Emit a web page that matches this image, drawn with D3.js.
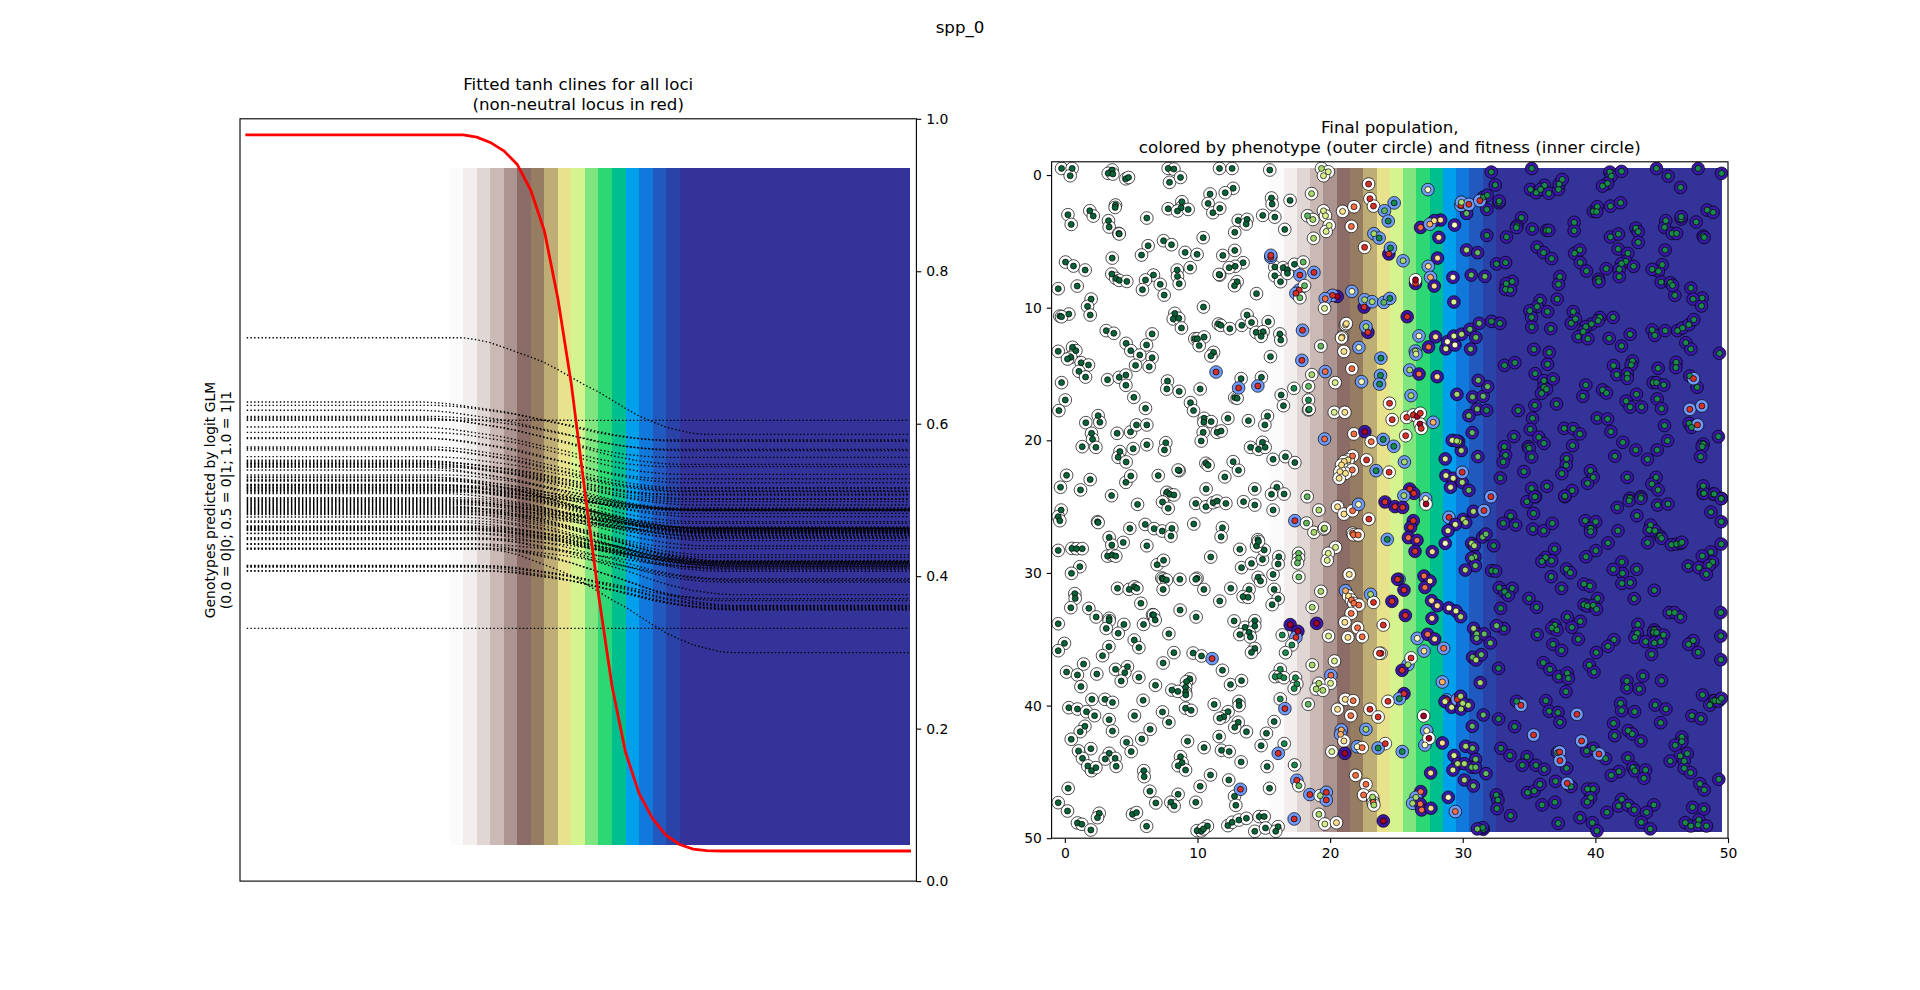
<!DOCTYPE html>
<html><head><meta charset="utf-8"><title>spp_0</title>
<script src="https://cdn.jsdelivr.net/npm/d3@7"></script>
<style>html,body{margin:0;padding:0;background:#fff}svg{display:block}text{font-family:"DejaVu Sans";fill:#000}</style>
</head><body><svg id="c" width="1920" height="990"></svg>
<script>
const suptitle="spp_0";
const leftTitle=["Fitted tanh clines for all loci","(non-neutral locus in red)"];
const rightTitle=["Final population,","colored by phenotype (outer circle) and fitness (inner circle)"];
const yLabel=["Genotypes predicted by logit GLM","(0.0 = 0|0; 0.5 = 0|1; 1.0 = 1|1"];
const leftTicks=[0,0.2,0.4,0.6,0.8,1.0];
const popTicks=[0,10,20,30,40,50];
// raster columns, cell index = centre x
const firstBandCell=16;
const bandColors=["#fcfbfb","#f2eeee","#e0d6d4","#cbb9b5","#ac9490","#8b6c66","#967c60","#bead75","#e8e28c","#d4f490","#7fe57f","#2dd874","#00bf8e","#00a0ed","#1279dc","#2159bf","#2a43a9"];
const lastBandColor="#333399";
const imageRange=[0.0475,0.9356];
// red cline, read at x = 0.5, 1.5, ... 49.5 (flat parts listed by run)
const redFlatLeft=0.979, redFlatRight=0.0395;
const redMid=[0.979,0.976,0.969,0.958,0.940,0.906,0.853,0.764,0.651,0.510,0.376,0.256,0.169,0.115,0.082,0.060,0.048,0.042,0.040];
const midStart=16.5;
// black clines: progress from left plateau to right plateau, read at x = 16.5, 17.5, ...
const clineProgress=[0,.02,.05,.1,.15,.2,.255,.33,.41,.49,.56,.645,.73,.81,.87,.925,.96,.99,1];
// black clines: left plateau, right plateau, and how many cells the drop sits off the common profile
const clineLeft=[.6285,.6241,.6176,.6097,.608,.6062,.5957,.5887,.5817,.5804,.5695,.5677,.5656,.5568,.552,.5502,.5485,.5468,.545,.5433,.5393,.5328,.5301,.527,.5249,.5205,.5188,.517,.5153,.5135,.5118,.5083,.503,.5004,.4978,.4952,.4925,.4899,.4873,.4847,.482,.4777,.4724,.4707,.4654,.4637,.4619,.4602,.4558,.4506,.448,.4418,.4366,.4138,.412,.4068,.6045,.3316,.7127,.4353,
.5205,.519,.5165,.5145,.512,.51,.5015,.499,.4965,.4938,.491,.4885,.486,.4835,.481,.5435,.5475,.5295,.5255,.466,.4645,.4625,.4605,.4565,.4495,.4425,.4365,.4142,.4125,.407];
const clineRight=[.5786,.5769,.5664,.5647,.5559,.5467,.5437,.5336,.5279,.5227,.516,.5152,.512,.5109,.5075,.5065,.5015,.5008,.4978,.4934,.4875,.4868,.4824,.4781,.4715,.4693,.4628,.4615,.4597,.458,.4562,.4527,.451,.4497,.4466,.4396,.4361,.428,.4247,.4197,.4191,.4185,.416,.4145,.4134,.412,.409,.4064,.3967,.3924,.3758,.3679,.3615,.3609,.358,.3556,.6044,.3316,.586,.2997,
.4868,.4862,.4874,.488,.4858,.4628,.4632,.462,.4595,.4588,.4575,.4565,.4555,.4535,.4205,.4875,.4895,.4645,.4605,.419,.4175,.418,.4168,.4155,.4128,.4105,.3945,.3705,.3595,.3565];
const clineShift=[-3,-2,-3,-2,-3,-2,-3,-2,-3,-2,-2,-3,-2,-2,-3,-2,-1,-2,-2,-1,-2,-1,-2,-1,-1,-2,-1,0,-1,-1,0,-1,0,-1,0,0,-1,0,0,1,0,0,1,0,1,0,1,1,1,1,2,1,2,2,1,2,0,0,0,2,
-2,0,-1,-2,-1,0,-1,-1,0,0,-1,1,0,0,1,-3,-2,-2,-1,1,0,2,1,1,2,1,2,1,2,2];
const outerColors=["#ffffff","#6f9bff","#3a17a8"];
const fitColors=["#0a6338","#1a8a4c","#5fb85e","#a6d96a","#d9ef8b","#ffffbf","#fee08b","#fdae61","#f46d43","#d73027","#a50026"];
// individuals on the left: white outer, dark green inner (x,y pairs)
const whitePop=[-.25,-.5,.55,-.5,.4,.05,3.57,-.38,3.27,-.13,3.62,-.08,4.6,.28,4.8,.18,7.79,-.5,8.22,-.45,7.89,.55,8.72,.18,11.66,-.5,12.61,-.5,15.45,-.38,12.69,1,12.09,1.33,10.95,1.43,10.8,2.14,11.16,2.84,11.68,2.51,8.82,2.01,8.77,2.46,7.79,2.54,8.49,2.71,9.3,2.59,3.82,2.26,3.79,2.44,1.88,2.69,2.14,3.09,.23,2.99,.48,3.72,3.29,3.44,3.34,3.92,4.07,4.4,4.1,4.44,6.18,3.24,13.07,3.42,13.74,3.34,13.67,3.69,12.81,4.32,14.92,3.04,15.83,3.17,16.58,4.1,15.58,1.73,15.63,2.19,16.98,1.91,10.43,4.72,7.44,4.95,8.04,5.25,6.28,5.33,5.78,6.03,9.07,5.83,9.97,5.98,3.57,6.26,.05,6.56,.65,6.86,1.53,7.16,8.47,7.16,9.45,6.98,8.49,7.64,8.62,8.19,11.91,6.06,12.81,5.68,13.44,6.61,12.84,6.88,12.39,6.98,11.68,7.54,11.63,7.49,12.99,8.04,12.79,8.34,14.45,8.94,15.83,6.93,15.83,7.59,16.26,8.04,16.46,6.98,16.78,7.16,16.78,7.41,17.31,6.73,3.54,7.46,3.84,7.79,4.1,7.94,4.67,8.02,6.68,7.54,6.08,7.91,5.85,8.64,7.19,8.24,7.49,9.05,-.5,8.57,.93,8.37,1.98,9.35,1.71,9.9,1.91,10.55,.3,10.48,-.38,10.63,-.25,10.68,10.45,9.95,8.29,10.43,8.17,10.85,8.59,10.8,8.79,11.53,11.58,11.23,11.76,11.33,12.44,11.58,13.34,11.33,13.74,10.55,14.07,11.11,15.33,11.06,14.42,11.86,14.95,11.81,14.8,12.16,16.21,11.98,16.28,12.44,3.12,11.73,3.69,11.93,6.58,11.98,9.8,12.34,10,12.34,10.5,12.21,10.13,12.86,4.62,12.69,4.97,13.24,6.16,12.81,5.65,13.57,6.58,13.77,6.36,14.45,5.33,14.35,.58,12.99,.83,13.24,-.5,13.29,.45,13.74,.2,13.87,1.23,14.15,1.78,14.32,1.06,14.8,1.56,15.23,3.22,15.43,4.1,15.25,4.6,15.08,4.6,15.85,11.21,13.37,11.01,13.64,15.5,13.69,-.25,15.65,7.74,15.53,7.69,16.13,8.62,16.31,10.2,16.13,13.29,15.35,14.82,15.25,5.2,16.76,.03,16.96,-.45,17.76,6.08,17.59,9.47,17.16,9.7,17.76,12.81,16.78,12.99,16.83,16.31,16.58,16.48,17.39,2.51,18.14,1.58,18.67,2.64,18.64,2.01,19.47,2.09,19.92,2.34,20.53,1.31,20.48,3.94,19.47,4.95,19.37,5.4,18.84,6.18,18.84,10.5,18.34,10.48,18.64,11.03,18.59,12.29,18.34,13.84,18.52,15.28,18.17,15.08,18.84,11.48,19.4,11.78,19.3,10.43,19.4,10.28,20.05,6.18,20.33,5.15,20.63,7.61,20.18,7.51,20.73,4.15,20.85,4.02,21.28,4.62,21.63,14,20.53,14.6,20.68,14.9,20.15,15.1,20.53,15.7,21.43,16.63,21.23,17.34,21.68,12.69,21.61,13.09,22.26,10.63,21.73,10.8,21.88,8.62,22.29,8.54,22.24,7.04,22.66,.13,22.64,1.91,22.96,-.33,23.54,1.18,23.74,4.6,23.17,4.97,22.69,12.06,22.76,3.52,24.17,10.65,23.67,14.32,23.67,15.98,23.54,15.58,24.07,16.53,24.05,7.69,23.92,7.91,24.07,8.22,24.12,
5.48,24.83,7.36,24.65,7.79,25.13,9.87,24.76,10.63,25.01,11.18,24.7,11.48,24.58,12.14,24.76,13.47,24.63,14.32,24.88,15.7,25.26,-.28,25.26,-.5,25.76,-.38,26.06,2.46,26.14,2.51,26.2,4.9,26.64,6.06,26.34,6.73,26.66,7.34,26.84,8.07,26.64,8,27.22,9.72,26.31,11.88,26.59,11.78,27.27,6.18,27.95,4.4,27.7,3.34,27.32,3.54,27.9,-.5,28.3,.53,28.15,.88,28.17,1.31,28.17,3.22,28.73,3.57,28.65,3.84,28.73,1.13,29.53,.5,30.03,6.96,29.38,7.44,29.05,7.31,30.38,7.41,30.46,7.66,30.53,7.41,31.24,8.67,30.48,9.97,30.4,9.87,30.48,10.48,31.24,11,28.8,11.68,32.12,12.51,31.16,13.32,29.6,13.19,28.22,14.07,29.28,14.9,28.98,15.03,28.27,14.45,27.97,14.55,27.49,14.6,27.63,15.7,30.11,16.13,28.78,16.08,29.33,14.57,30.33,14.75,30.61,13.89,31.24,13.44,31.79,13.82,31.84,15.78,31.24,16.08,31.94,15.63,32.39,3.97,31.16,4.85,31.24,5.25,31.04,5.43,31.16,5.73,32.29,.75,31.56,.78,31.92,.45,32.62,1.81,32.67,2.36,33.32,3.34,33.42,3.34,33.6,3.12,34.18,4.45,33.88,4.02,34.55,5.93,33.88,6.61,33.15,6.69,33.17,6.81,33.55,7.84,34.58,8.69,32.8,9.9,33.32,-.5,33.83,12.76,33.62,13.59,34.1,14.32,33.6,14.32,34,13.19,34.65,13.89,34.48,13.99,34.83,-.03,35.31,-.5,35.86,5.23,35.06,5.58,35.63,3.32,35.56,2.84,36.24,8.22,36.01,9.67,36.04,10.3,36.26,14.32,35.69,14.07,35.99,1.41,36.87,7.41,36.79,11.88,37.34,.13,37.47,.95,37.69,2.41,37.62,3.82,37.27,4.72,37.07,4.52,37.52,4.25,38.15,5.58,37.87,1.21,38.57,6.83,38.47,9.42,37.99,9.17,38.2,9.1,38.62,9.1,39,9.12,39.2,8.07,38.83,8.52,38.93,12.49,38.42,13.32,38.12,2.04,39.53,3.02,39.53,3.59,39.76,.3,40.16,.95,40.26,1.63,40.46,2.24,40.76,3.34,41.06,5.25,40.76,5.9,39.6,7.36,40.48,7.84,41.26,9.1,40.2,9.52,40.36,11.26,39.91,12.31,40.46,11.98,40.84,11.68,40.96,13.12,39.68,13.14,40,13.07,41.26,12.81,41.64,13.69,41.97,15.78,41.21,15.2,42.09,1.51,41.56,1.16,41.97,3.59,41.92,6.43,41.79,.48,42.54,5.8,42.52,4.65,42.77,5,43.47,9.25,42.69,10.5,43.17,11.63,42.34,11.81,43.37,12.39,43.47,14.8,43.02,13.29,44.25,1.03,43.42,1.33,43.98,1.96,43.25,3.34,43.6,3.04,44.03,3.79,43.98,3.87,44.58,1.73,44.55,2.01,44.91,2.34,44.68,8.72,43.85,8.84,44.3,8.54,44.53,9.1,44.86,15.25,44.6,5.95,44.91,5.98,45.36,10.98,45.23,12.36,45.61,10.2,46.09,.25,46.24,15.43,46.24,6.41,46.46,8.54,46.69,6.86,47.34,7.99,47.29,8.24,47.57,9.87,47.29,12.79,46.84,12.89,47.52,-.5,47.32,.2,47.95,2.59,48.12,2.46,48.45,5.1,48.2,5.4,48.07,.95,48.85,1.28,48.95,1.96,49.38,6.16,49.1,9.97,49.43,10.3,49.45,10.75,49.08,10.45,49.3,12.29,49.05,12.61,48.8,13.12,48.63,13.69,48.5,14.65,48.37,15.03,48.37,14.32,49.48,15.13,49.23,16.08,49.13,15.9,49.48];
// individuals on the right: dark outer, green inner (x,y pairs)
const darkPop=[32.15,-.23,32.45,.75,35.2,-.5,35.11,1.08,35.54,1.33,36.17,.78,35.87,1.08,36.49,1.38,37.22,1.08,37.27,.68,37.5,.33,41.09,-.23,41.2,.08,41.97,-.28,40.92,.63,40.54,.83,44.61,-.5,45.49,.08,46.42,.93,47.75,-.5,49.51,-.13,31.54,1.68,31.85,1.53,31.82,2.59,32.73,2.09,32.75,1.96,39.84,2.74,40.14,2.39,41.14,2.34,41.9,2.09,40.09,2.76,48.43,2.64,48.88,2.81,34.43,3.22,34.08,3.84,34.05,3.96,35.24,4.07,36.32,4.17,36.49,4.17,38.4,3.57,38.4,4.2,41.14,4.67,41.74,4.45,43.05,4,43.23,4.27,43.23,5.08,45.31,3.44,45.21,3.94,46.47,3.32,46.47,3.14,45.79,4.4,46.12,4.4,47.6,3.54,48.13,4.6,48.2,4.7,33.3,4.67,31.82,4.55,35.61,5.43,36.09,5.85,36.7,6.3,32.55,6.7,33.23,6.6,38.43,5.9,38.83,5.65,38.86,6.6,39.33,7.24,41.72,5.58,42.45,5.9,42.3,6.51,41.97,6.68,42.88,6.88,41.8,7.11,41.8,7.66,40.82,7.06,45.26,5.65,45.04,6.76,44.76,7.26,44.28,7.11,44.96,8.07,45.66,8.12,45.99,9.07,45.82,8.32,40.24,7.86,40.26,8.04,37.32,7.66,37.22,8.24,33.73,8.02,33.28,8.19,33.23,8.62,33.6,8.67,35.84,9.45,35.61,9.92,35.06,10.23,35.19,10.73,35.21,11.46,36.39,10.3,37.12,9.35,36.64,11.58,47.2,8.52,48.05,9.27,47.37,9.35,48,9.87,38.33,10.3,38.5,10.85,38.18,11.18,39.71,11.23,39.28,11.43,39.08,11.81,38.7,12.19,39.43,12.34,40.34,10.73,40.21,10.98,41.34,10.73,41.04,12.31,41.97,12.89,42.62,12.01,44.28,11.68,44.48,12.09,45.26,11.73,46.19,11.73,46.57,11.53,47.05,11.28,47.42,10.9,46.82,12.64,47.2,13.12,49.36,13.44,35.36,13.14,36.52,13.37,36.39,14.27,33.15,14.35,33.93,14.15,35.46,14.97,36.12,15.5,36.82,15.38,36.12,16,36.32,16.15,35.94,16.46,42.8,14.02,42.7,14.32,41.37,14.37,41.62,15.05,42.4,15,42.4,15.33,44.73,14.57,44.36,15.65,44.61,15.65,45.16,15.83,46.09,14.12,46.07,14.52,47.12,15.15,47.67,16,39.28,15.83,39.06,16.68,40.54,16.2,40.84,16.43,43.1,16.53,42.32,17.04,42.62,17.49,43.48,17.49,44.66,16.88,44.99,17.61,47.07,18.72,47.25,19.02,37.07,17.26,35.44,17.36,34.18,17.76,35.26,18.34,35.09,19.17,40.14,18.32,40.92,18.39,41.17,19.35,37.65,19.1,38.33,19.12,38.83,19.52,45.21,18.89,49.28,19.72,45.44,20.03,44.66,20.73,43.93,21.43,43.05,20.73,42.07,20.15,41.47,21.2,48.13,20.28,48.05,20.48,47.93,21.23,33.86,19.72,35.74,19.77,36.12,20.23,34.94,20.48,35.01,20.6,33.13,20.48,33.23,21.13,33.05,21.63,35.19,21.26,38.28,20.4,37.83,21.38,37.8,21.88,37.47,22.51,34.61,22.36,32.83,22.84,39.63,22.29,39.84,22.79,39.41,23.24,42.4,22.79,44.58,22.79,44.26,23.29,44.73,23.74,35.19,23.62,35.49,24.25,36.34,23.47,38.25,23.79,37.7,24.25,48.13,23.44,48.88,24.05,49.51,24.37,48.13,24,42.6,24.37,43.43,24.25,
34.84,24.63,35.44,24.25,37.7,24.2,41.65,25.06,42.55,24.55,43.43,24.38,44.69,24.88,45.47,24.8,48.18,24,48.96,24.05,49.49,24.4,33.61,25.71,33.06,26.26,33.99,26.39,35.34,25.51,35.29,26.69,36.1,26.82,36.75,26.26,39.24,26.06,40.02,26.14,39.64,26.64,39.64,26.89,43.13,25.68,48.71,25.41,49.49,26.14,41.7,26.82,44.16,26.39,44.06,26.77,44.49,26.82,44.87,27.22,44.99,27.39,43.94,27.72,40.95,27.74,40.04,28.32,39.29,28.78,45.74,27.87,46.12,27.82,46.42,27.77,46.52,27.69,49.49,27.82,32.33,27.95,32.18,29.83,32.48,29.86,36.93,28.2,36.25,28.83,35.97,29.13,36.7,29.08,36.67,30.28,37.83,29.7,38.11,29.98,37.45,31.16,42,29.18,42.05,30.03,41.35,29.73,43.11,29.73,42,30.79,42.63,30.73,42.93,31.94,44.44,31.31,48.71,28.42,48.06,28.72,47,29.48,47.8,29.6,48.84,29.18,48.58,29.43,48.36,30.1,32.75,31.11,33.16,31.41,33.73,31.16,33.43,31.69,34.99,31.92,32.86,32.67,35.57,32.59,39.14,30.84,39.59,30.99,40.17,31.92,39.14,32.39,39.39,32.49,39.84,32.44,40.09,32.74,45.57,32.99,45.97,32.99,46.42,33.32,49.46,32.99,37.88,33.32,38.86,33.65,38.23,34.1,36.95,33.93,36.72,34.15,37.1,34.3,35.62,34.65,38.71,35,33.11,34.2,43.21,33.88,43.16,34.55,42.98,34.86,44.44,34.3,44.39,34.48,44.61,34.5,45.14,34.68,43.79,35.18,44.44,35.28,44.92,35.18,44.24,36.14,41.4,35.03,40.95,35.53,40.07,36,47.38,35.1,47.03,35.38,47.75,35.99,49.46,34.76,49.46,36.54,36.8,35.38,37.45,35.84,32.7,37.19,36.07,36.77,36.57,37.27,37.23,37.82,37.88,37.55,37.96,37.95,37.78,38.95,39.54,36.94,39.89,37.47,42.38,38.15,42.38,38.67,43.31,38.75,43.58,37.77,44.99,38.12,48.08,39.2,48.89,39.63,48.63,39.96,49.01,39.63,49.31,39.65,49.51,39.45,34.06,39.68,36.27,39.63,36.52,40.43,37.18,40.53,37.33,41.26,41.9,39.83,41.98,40.38,42.96,40.46,44.51,39.96,45.32,40.26,44.92,41.29,47.28,40.76,47.96,40.99,32.7,41.01,33.91,41.59,41.37,41.34,41.45,42.27,42.48,41.89,42.78,42.14,43.43,42.67,46.52,42.37,46.52,42.72,46.02,42.99,46.4,43.8,46.93,43.62,46.7,44.18,45.64,44.18,46.7,44.73,47.18,45.06,49.31,45.56,39.34,43.42,39.84,43.22,40.77,44,42.45,43.95,32.88,43.22,33.56,43.77,34.84,43.85,34.49,44.5,35.52,44.5,36.15,44.8,37.83,44.73,38.16,46.11,37,45.71,37.15,43.55,41.78,44.98,41.2,45.26,42.83,44.68,42.98,44.93,43.79,44.86,43.66,45.48,47.88,45.89,48.21,46.36,34.89,46.56,35.39,46.44,35.82,45.94,32.53,46.74,32.65,47.12,32.58,47.77,33.61,48.3,35.98,47.49,36.95,47.29,39.41,46.29,39.84,46.29,39.64,46.94,39.39,47.27,41.98,47.07,41.75,47.57,42.48,47.52,42.93,47.87,44.41,47.49,43.86,48.05,40.87,48.05,43.46,48.8,38.84,48.45,39.77,48.83,37.2,48.88,40.12,49.45,44.14,49.3,47.33,47.67,48.18,47.8,46.78,48.83,47.2,49.08,47.8,48.62,47.75,49,48.38,49.08,31.55,49.33,31.5,49.2];
// the cline zone: x, y, outer class, fitness class
const midPop=[[19.35,-.5,0,3],[19.86,-.25,0,4],[19.5,.05,0,4],[18.6,1.4,0,3],[18.3,3.07,0,2],[18.7,3.35,0,3],[19.5,2.7,0,4],[19.65,3.07,0,4],[19.93,3.8,0,4],[19.7,4.25,0,4],[18.75,4.77,0,3],[20.94,2.74,0,6],[21.8,2.39,0,8],[21.6,3.87,0,8],[22.9,.68,0,9],[23,1.78,0,9],[23.27,2.34,0,9],[22.6,5.45,0,9],[24.83,2.1,1,1],[24.1,2.69,1,2],[24.38,3.47,1,1],[23.3,4.42,1,3],[23.7,4.75,1,1],[24.43,5.95,2,9],[24.55,5.5,1,1],[25.5,6.46,1,3],[27.37,1.1,1,5],[26.82,3.95,2,8],[28.33,3.39,2,6],[27.85,3.44,2,6],[27.52,3.7,1,7],[28.2,4.7,2,6],[28.1,6.26,2,6],[27.4,6.88,1,6],[27.57,7.71,1,7],[27.85,8.37,2,6],[26.44,8.17,2,9],[26.44,7.9,0,10],[25.81,10.68,2,9],[22.57,9.95,2,9],[22.6,9.4,1,3],[23.17,9.55,1,3],[24.05,9.6,1,2],[24.5,9.3,1,1],[21.64,8.77,1,5],[20.53,9.15,2,10],[20.18,9.07,1,9],[19.63,9.32,1,8],[19.58,10.05,0,4],[15.53,6.2,1,9],[15.53,6.05,1,9],[17.72,7.54,1,9],[18.78,7.34,1,9],[17.97,6.56,0,2],[17.67,8.67,1,9],[17.42,8.92,1,9],[18.07,8.34,0,2],[17.72,9.25,0,2],[17.92,11.7,1,9],[17.87,13.97,1,9],[19.3,12.9,0,2],[21.16,11.3,0,6],[21.22,11.2,0,6],[20.9,12.2,0,6],[20.86,12.28,0,6],[21.04,13.3,0,6],[22.17,13,1,5],[22.85,11.86,2,9],[22.7,11.43,1,3],[23.83,13.8,1,1],[23.8,15.1,1,1],[23.73,15.76,1,1],[22.37,15.58,1,5],[21.64,14.6,0,8],[19.63,14.82,1,8],[18.62,15.05,0,3],[20.38,15.65,0,4],[18.37,15.93,0,2],[17.27,16.08,0,1],[18.37,16.96,0,1],[18.37,17.71,0,1],[18.42,17.66,0,1],[20.31,17.89,0,4],[21.11,17.89,0,6],[19.58,19.9,1,8],[21.79,19.52,0,8],[22.62,19.35,2,10],[23.1,20.1,0,8],[24,19.93,1,1],[24.8,20.45,1,1],[24.48,17.21,0,9],[24.68,18.44,0,9],[25.7,19.65,0,9],[25.77,18.27,0,9],[26.27,18.09,0,9],[26.57,18.2,0,10],[26.8,17.96,0,9],[26.77,18.77,0,10],[26.87,19.1,0,9],[27.77,18.64,1,7],[26.1,16.63,1,3],[26,14.7,1,3],[26.7,15,2,8],[28.07,15.2,2,6],[26.7,12.13,1,5],[26.42,13.27,1,3],[26.47,13.5,1,4],[27.42,12.96,2,8],[27.95,12.2,2,6],[28.73,13.1,2,4],[28.85,12.56,2,5],[22.75,21.48,0,9],[23.47,22.29,1,1],[24.45,22.4,0,9],[25.6,21.63,1,3],[21.69,21.18,0,8],[21.36,21.48,0,6],[21.06,21.6,0,6],[20.86,21.86,0,6],[21.67,22.23,0,8],[21.16,22.49,0,6],[20.74,22.36,0,6],[20.68,22.86,0,6],[26,23.67,2,9],[26.31,24,2,9],[25.56,24.17,1,3],[27.2,24.4,1,5],[27.23,24.8,0,10],[18.27,24.25,0,2],
[29.38,3.77,2,5],[29.26,7.71,2,5],[29.33,9.57,2,4],[29.41,12.81,2,5],[29.33,12.14,2,4],[29.91,12,2,3],[30.54,11.63,2,2],[30.99,12.24,2,2],[30.59,13.12,2,2],[31.24,11.18,2,2],[32.17,11.03,2,1],[32.8,11.18,2,1],[29.56,16.53,2,3],[30.74,16.73,2,2],[31.54,16.68,2,2],[31.87,15.95,2,2],[31.17,15.48,2,2],[31.09,17.64,2,2],[31.8,17.74,2,1],[30.46,18.14,2,2],[30.71,19.42,2,2],[29.89,20.77,2,3],[29.21,20,2,4],[29.7,20.1,2,3],[29.55,20.05,2,3],[28.68,21.4,2,4],[31.14,21.23,2,2],[28.73,22.66,2,4],[29.28,22.86,2,4],[29.96,23.17,2,3],[30.46,23.77,2,2],[29.08,23.54,2,4],[29.96,22.41,1,9],[30.29,5.65,2,3],[31.12,5.85,2,2],[30.64,7.54,2,2],[31.67,7.64,2,2],[30.29,2.89,2,2],[29.86,2.29,1,9],[29.9,2.05,1,3],[30.46,2.21,1,9],[31.29,1.93,1,9],[47.4,15.35,1,9],[47.12,17.66,1,9],[48.03,17.41,1,9],[47.7,18.84,1,9],[32.12,24.25,1,9],
[24.14,24.65,2,9],[24.89,25,2,9],[25.47,25.06,2,9],[28.96,25.81,1,9],[30.8,25.36,2,3],[31.6,25.3,1,9],[30.04,25.96,2,3],[30.22,26.19,2,3],[29.44,26.34,2,4],[28.89,26.82,2,4],[28.68,27.77,2,5],[26.27,26.06,2,9],[26.07,26.56,2,9],[25.9,27.34,2,8],[26.55,27.54,2,8],[26.4,28.37,2,9],[27.7,28.4,2,6],[24.31,27.47,1,1],[30.67,27.77,2,3],[30.87,27.95,2,3],[31.5,27.29,2,2],[31.75,27.07,2,2],[30.92,28.78,2,2],[30.67,28.88,2,2],[30.95,29.45,2,2],[30.19,29.78,2,3],[25.2,30.48,1,1],[25.09,30.48,2,9],[25.57,31.29,2,9],[24.66,32.14,2,9],[25.67,33.2,2,9],[27.08,30.23,2,8],[27.53,30.61,2,6],[27.15,31.09,2,8],[27.65,32.09,2,6],[28.08,32.47,2,6],[27.68,33.42,2,6],[28.96,32.64,2,5],[29.49,32.87,2,4],[29.84,33.3,2,3],[24.01,33.93,0,9],[26.57,34.93,1,5],[27.35,34.63,2,8],[27.88,34.98,2,6],[28.56,35.68,1,8],[27.08,35.89,1,6],[23.84,36.06,0,9],[25.87,36.92,1,3],[26.1,36.41,0,9],[25.42,37.34,2,9],[28.46,38.22,1,7],[25.57,39.1,2,9],[25.22,39.48,1,1],[24.36,39.68,0,9],[28.79,39.58,1,9],[28.66,39.7,2,4],[29.16,40.13,2,4],[29.59,39.53,1,9],[29.84,39.3,2,3],[29.87,40.26,2,3],[30.42,39.98,2,3],[30,39.83,2,3],[27.05,40.78,0,10],[27.28,41.89,1,5],[27.15,42.97,1,5],[27.45,42.47,0,10],[28.46,42.82,2,6],[24.16,42.87,0,9],[25.44,43.47,1,1],[27.58,45.08,2,6],[28.91,46.92,2,5],[29.44,47.99,1,8],[26.83,46.49,2,8],[26.47,46.92,1,3],[26.22,47.37,1,3],[26.8,47.42,2,8],[26.9,47.87,2,8],[27.6,47.74,2,6],[24.01,48.7,2,10],[32.55,33.98,2,2],[30.82,34.18,2,3],[31.05,34.6,2,2],[31.05,34.93,2,2],[31.62,34.6,2,2],[32.08,35.28,2,2],[30.74,36.36,2,2],[31,36.56,2,3],[31.4,36.16,2,2],[31.32,38.27,2,3],[34.39,39.98,1,9],[38.61,40.66,1,9],[31.55,40.71,2,2],[30.72,41.56,2,2],[35.34,42.22,1,9],[38.96,42.67,1,9],[40.27,43.65,1,9],[37.3,43.5,1,9],[37.33,44.15,1,9],[37.88,45.86,1,9],[30.22,43.07,2,3],[30.74,43.22,2,2],[29.34,43.77,2,4],[30.97,44.05,2,2],[29.61,44.38,2,3],[30.12,44.38,2,3],[30.67,44.65,2,2],[30.97,44.65,2,2],[31.75,45.13,2,2],[29.26,44.86,2,4],[30.12,45.61,2,3],[30.8,46.06,2,2],[31.1,49.3,2,2],
[19.15,25.26,0,3],[20.56,25.01,0,6],[21.04,25.56,0,6],[21.69,25.31,0,8],[22.14,24.83,1,5],[22.92,25.94,0,9],[17.34,26.06,1,9],[18.22,26.24,0,2],[18.78,26.94,0,3],[19.53,26.7,0,3],[19.58,26.62,0,3],[21.69,27,0,8],[21.76,27.12,0,8],[22.12,27.14,0,8],[17.62,28.52,0,2],[17.62,28.88,0,2],[17.54,29.25,0,2],[17.64,30.31,0,2],[20.41,28.07,0,4],[19.86,28.52,0,4],[19.78,29.05,0,4],[21.44,30.11,0,6],[21.16,31.34,1,7],[21.39,31.74,0,6],[21.61,32.04,0,8],[21.79,32.29,0,8],[22.17,32.42,0,8],[21.59,33.05,0,8],[21.11,33.72,0,6],[22.07,34.13,0,8],[21.34,34.86,0,6],[22.42,34.81,0,8],[23.05,31.61,1,3],[23.27,32.22,0,9],[23.72,36.06,0,9],[19.3,31.39,0,3],[18.65,32.59,0,3],[19.88,34.76,0,4],[18.98,33.8,2,10],[16.99,33.9,2,10],[17.57,34.4,2,10],[17.42,34.86,1,9],[17.12,35.43,0,1],[16.39,34.68,0,1],[16.64,36.01,0,1],[18.65,36.94,0,3],[20.33,36.64,0,4],[20.06,37.72,1,8],[20.03,38.32,0,4],[19.15,38.32,0,3],[18.95,38.75,0,3],[19.45,38.85,0,3],[16.24,37.27,0,1],[15.86,37.82,0,1],[16.21,37.77,0,1],[16.51,37.9,0,1],[17.39,37.9,0,1],[17.49,38.37,0,1],[17.29,38.72,0,1],[16.24,39.5,0,1],[16.59,40.23,1,9],[18.35,39.9,0,2],[21.14,39.53,0,6],[21.74,39.63,0,8],[20.56,40.28,0,6],[21.56,40.76,0,8],[23,40.28,0,9],[23.62,40.86,0,9],[20.84,41.84,1,7],[20.79,42.17,1,7],[21.04,42.67,0,6],[21.11,43.6,2,10],[20.13,43.47,0,4],[22.7,41.79,1,3],[22.04,43.1,1,5],[22.42,43.17,0,8],[23.62,43.2,1,1],[16.54,42.87,0,1],[16.09,43.6,1,9],[17.32,44.48,0,1],[17.49,45.63,1,9],[17.64,46.04,0,2],[18.47,46.71,1,9],[19.25,46.79,0,3],[19.71,46.54,1,9],[19.71,47.12,1,9],[21.92,45.26,0,8],[22.7,45.94,0,8],[22.52,46.74,0,8],[23.22,47.1,1,2],[23.2,46.9,0,3],[23.25,47.3,0,8],[23.3,47.5,0,3],[17.29,48.55,1,9],[19.15,48.2,0,3],[19.6,48.93,0,4],[20.48,48.83,0,6],[11.1,36.46,1,9],[13.24,46.31,1,9],[11.4,14.85,1,9],[13.1,16.05,1,9],[14.55,15.9,1,9]];

const svg=d3.select("#c");
const L={l:240,r:916.4,t:118.8,b:881.1};
const R={l:1051.6,r:1728,t:161.8,b:838.2};
const lx=d3.scaleLinear().domain([0,50]).range([L.l,L.r]);
const ly=d3.scaleLinear().domain([0,1]).range([L.b,L.t]);
const rx=d3.scaleLinear().domain([-1,50]).range([R.l,R.r]);
const ry=d3.scaleLinear().domain([50,-1]).range([R.b,R.t]);
const defs=svg.append("defs");
defs.append("clipPath").attr("id","cl").append("rect").attr("x",L.l).attr("y",L.t).attr("width",L.r-L.l).attr("height",L.b-L.t);
defs.append("clipPath").attr("id","cr").append("rect").attr("x",R.l).attr("y",R.t).attr("width",R.r-R.l).attr("height",R.b-R.t);

const cells=[];
for(let i=firstBandCell;i<50;i++)cells.push({i,c:bandColors[i-firstBandCell]||lastBandColor});

// LEFT PANEL
const gl=svg.append("g").attr("clip-path","url(#cl)");
gl.selectAll("rect").data(cells).join("rect").attr("shape-rendering","crispEdges")
 .attr("x",d=>lx(d.i-.5)).attr("width",d=>lx(d.i+.5)-lx(d.i-.5)+.4)
 .attr("y",ly(imageRange[1])).attr("height",ly(imageRange[0])-ly(imageRange[1])).attr("fill",d=>d.c);
const xs=d3.range(50).map(i=>i+.5);
const redVals=xs.map(x=>x<midStart?redFlatLeft:(x>=midStart+redMid.length?redFlatRight:redMid[x-midStart]));
const progressAt=(x,shift)=>{const k=x-midStart-shift;return k<0?0:(k>=clineProgress.length?1:clineProgress[k]);};
const line=d3.line().x(d=>lx(d[0])).y(d=>ly(d[1]));
clineLeft.forEach((a,j)=>{
 const b=clineRight[j],s=clineShift[j];
 gl.append("path").attr("d",line(xs.map(x=>[x,a+(b-a)*progressAt(x,s)])))
  .attr("fill","none").attr("stroke","#000").attr("stroke-width",1.39).attr("stroke-dasharray","1.39 2.29");
});
gl.append("path").attr("d",line(xs.map((x,i)=>[x,redVals[i]]))).attr("fill","none").attr("stroke","#f00").attr("stroke-width",2.78).attr("stroke-linejoin","round").attr("stroke-linecap","square");
svg.append("rect").attr("x",L.l).attr("y",L.t).attr("width",L.r-L.l).attr("height",L.b-L.t).attr("fill","none").attr("stroke","#000").attr("stroke-width",1.11);
const lax=svg.append("g").attr("transform",`translate(${L.r},0)`).call(d3.axisRight(ly).tickValues(leftTicks).tickSize(4.86).tickPadding(4.9).tickFormat(d3.format(".1f")));
lax.select(".domain").remove();

// RIGHT PANEL
const gr=svg.append("g").attr("clip-path","url(#cr)");
gr.append("g").selectAll("rect").data(cells).join("rect").attr("shape-rendering","crispEdges")
 .attr("x",d=>rx(d.i-.5)).attr("width",d=>rx(d.i+.5)-rx(d.i-.5)+.4)
 .attr("y",ry(-.5)).attr("height",ry(49.5)-ry(-.5)).attr("fill",d=>d.c);
const pop=[];
for(let i=0;i<whitePop.length;i+=2)pop.push([whitePop[i],whitePop[i+1],0,0]);
for(let i=0;i<darkPop.length;i+=2)pop.push([darkPop[i],darkPop[i+1],2,1]);
midPop.forEach(d=>pop.push(d));
gr.append("g").selectAll("circle").data(pop).join("circle").attr("cx",d=>rx(d[0])).attr("cy",d=>ry(d[1])).attr("r",6.35)
 .attr("fill",d=>outerColors[d[2]]).attr("stroke","#000").attr("stroke-opacity",.72).attr("stroke-width",.95);
gr.append("g").selectAll("circle").data(pop).join("circle").attr("cx",d=>rx(d[0])).attr("cy",d=>ry(d[1])).attr("r",3)
 .attr("fill",d=>fitColors[d[3]]).attr("stroke","#000").attr("stroke-opacity",.72).attr("stroke-width",.95);
svg.append("rect").attr("x",R.l).attr("y",R.t).attr("width",R.r-R.l).attr("height",R.b-R.t).attr("fill","none").attr("stroke","#000").attr("stroke-width",1.11);
const rb=svg.append("g").attr("transform",`translate(0,${R.b})`).call(d3.axisBottom(rx).tickValues(popTicks).tickSize(4.86).tickPadding(4.9).tickFormat(d3.format("d")));
const rl=svg.append("g").attr("transform",`translate(${R.l},0)`).call(d3.axisLeft(ry).tickValues(popTicks).tickSize(4.86).tickPadding(4.9).tickFormat(d3.format("d")));
rb.select(".domain").remove(); rl.select(".domain").remove();
svg.selectAll(".tick line").attr("stroke","#000").attr("stroke-width",1.11);
svg.selectAll(".tick text").style("font-family",'"DejaVu Sans"').style("font-size","13.9px").attr("fill","#000");

// TEXT
const T=(x,y,s,size,a="middle")=>svg.append("text").attr("x",x).attr("y",y).attr("text-anchor",a).style("font-size",size+"px").text(s);
T(960,33,suptitle,16.67);
T((L.l+L.r)/2,90,leftTitle[0],16.67);T((L.l+L.r)/2,109.5,leftTitle[1],16.67);
T((R.l+R.r)/2,133,rightTitle[0],16.67);T((R.l+R.r)/2,152.5,rightTitle[1],16.67);
[[214.5,yLabel[0]],[231,yLabel[1]]].forEach(([x,s])=>svg.append("text").attr("transform",`translate(${x},500) rotate(-90)`).attr("text-anchor","middle").style("font-size","13.9px").text(s));
</script></body></html>
